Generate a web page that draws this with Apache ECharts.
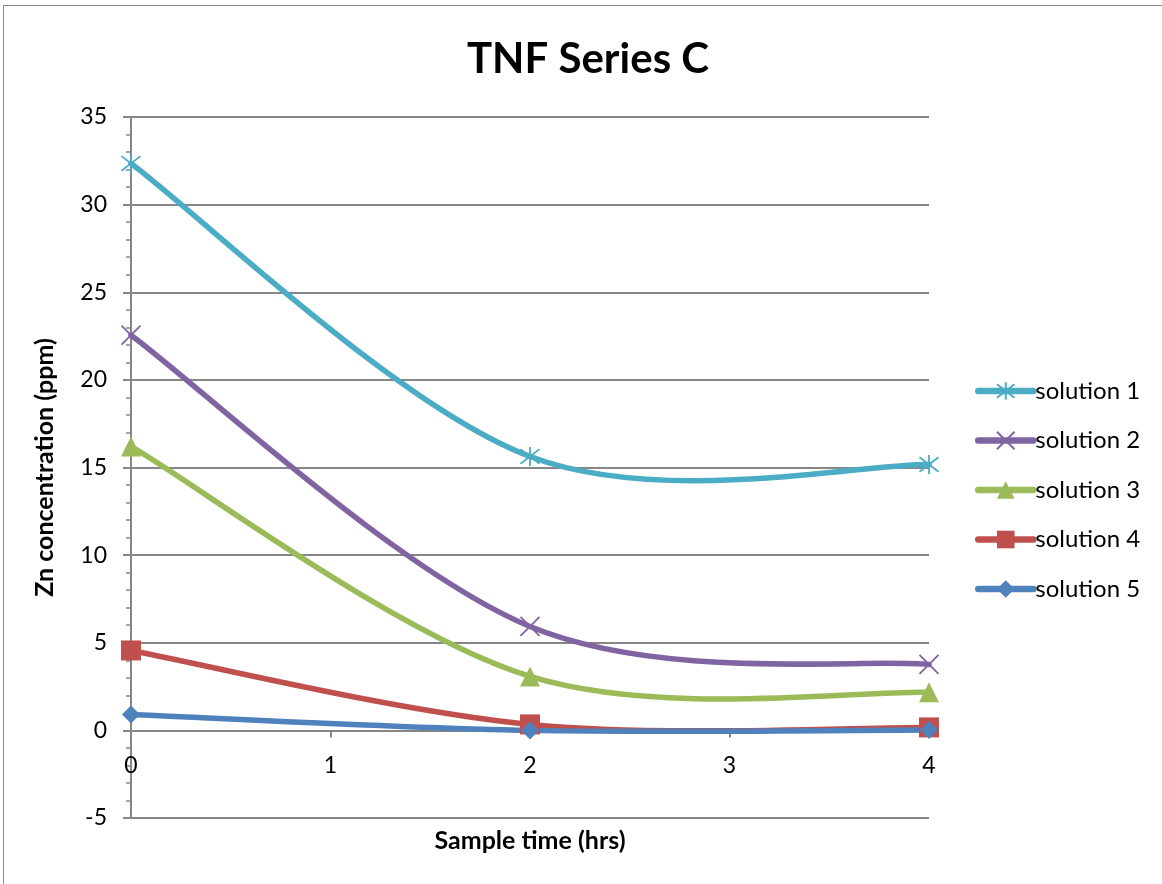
<!DOCTYPE html>
<html>
<head>
<meta charset="utf-8">
<script src="https://cdn.jsdelivr.net/npm/echarts@6/dist/echarts.min.js"></script>
<style>
html,body{margin:0;padding:0;background:#fff;}
#frame{position:absolute;left:3px;top:5px;width:1170px;height:890px;border:1.5px solid #898989;box-sizing:border-box;}
#chart{position:absolute;left:0;top:0;width:1162px;height:884px;}
</style>
</head>
<body>
<div id="frame"></div>
<div id="chart"></div>
<script>
const times = [0, 2, 4];
const seriesNames = ['solution 1', 'solution 2', 'solution 3', 'solution 4', 'solution 5'];
const solution1 = [32.35, 15.63, 15.17];
const solution2 = [22.55, 5.93, 3.76];
const solution3 = [16.2, 3.08, 2.17];
const solution4 = [4.56, 0.34, 0.17];
const solution5 = [0.91, 0.0, 0.02];
const yTicks = [-5, 0, 5, 10, 15, 20, 25, 30, 35];
const xTicks = [0, 1, 2, 3, 4];

const colors = ['#4BACC6', '#8064A2', '#9BBB59', '#C0504D', '#4F81BD'];
const values = [solution1, solution2, solution3, solution4, solution5];
const symbols = [
  'path://M0,0L10,10M10,0L0,10M5,-1.5L5,11.5',
  'path://M0,0L10,10M10,0L0,10',
  'triangle',
  'rect',
  'diamond'
];
const symbolSizes = [19, 19, 20, 20, 18];

// Excel-style smoothed curve (Catmull-Rom Bezier) through the pixel positions given by the axes
function smoothPath(pts) {
  let d = 'M' + pts[0][0] + ',' + pts[0][1];
  for (let k = 0; k < pts.length - 1; k++) {
    const p0 = pts[Math.max(k - 1, 0)], p1 = pts[k], p2 = pts[k + 1], p3 = pts[Math.min(k + 2, pts.length - 1)];
    const c1 = [p1[0] + (p2[0] - p0[0]) / 6, p1[1] + (p2[1] - p0[1]) / 6];
    const c2 = [p2[0] - (p3[0] - p1[0]) / 6, p2[1] - (p3[1] - p1[1]) / 6];
    d += ' C' + c1[0] + ',' + c1[1] + ' ' + c2[0] + ',' + c2[1] + ' ' + p2[0] + ',' + p2[1];
  }
  return d;
}

const chart = echarts.init(document.getElementById('chart'));
const font = 'Lato, "Open Sans", sans-serif';

const curveSeries = seriesNames.map((name, i) => ({
  name: 'curve ' + (i + 1),
  type: 'custom',
  coordinateSystem: 'cartesian2d',
  data: times.map((t, j) => [t, values[i][j]]),
  encode: {x: 0, y: 1},
  z: 2,
  silent: true,
  renderItem: function (params, api) {
    if (params.dataIndex !== 0) return null;
    const pts = times.map((t, j) => api.coord([t, values[i][j]]));
    return {
      type: 'path',
      shape: {pathData: smoothPath(pts)},
      style: {fill: 'none', stroke: colors[i], lineWidth: 5.5, lineCap: 'round', lineJoin: 'round'}
    };
  }
}));

const markerSeries = seriesNames.map((name, i) => ({
  name: name,
  type: 'line',
  data: times.map((t, j) => [t, values[i][j]]),
  symbol: symbols[i],
  symbolSize: symbolSizes[i],
  showAllSymbol: true,
  z: 3,
  lineStyle: {color: colors[i], width: 5, opacity: 0},
  itemStyle: i < 2
    ? {color: colors[i], borderColor: colors[i], borderWidth: 1.8}
    : {color: colors[i], borderWidth: 0},
  emphasis: {disabled: true}
}));

chart.setOption({
  animation: false,
  textStyle: {fontFamily: font},
  title: {
    text: 'TNF Series C',
    left: 583, top: 33, textAlign: 'center',
    textStyle: {fontSize: 42, fontWeight: 'bold', color: '#000', fontFamily: font}
  },
  legend: {
    orient: 'vertical',
    left: 970, top: 374,
    itemWidth: 55, itemHeight: 22, itemGap: 25.5,
    lineStyle: {opacity: 1, width: 6.5, cap: 'round'},
    textStyle: {fontSize: 24, color: '#000', fontFamily: font, padding: [0, 0, 0, -3]},
    data: seriesNames
  },
  grid: {left: 131, top: 117, right: 233, bottom: 66, containLabel: false, outerBoundsMode: 'none'},
  xAxis: {
    type: 'value', min: xTicks[0], max: xTicks[xTicks.length - 1], interval: 1,
    name: 'Sample time (hrs)', nameLocation: 'middle', nameGap: 10,
    nameTextStyle: {fontSize: 25, fontWeight: 'bold', color: '#000', verticalAlign: 'top'},
    axisLine: {show: true, onZero: true, lineStyle: {color: '#868686', width: 2}},
    axisTick: {show: true, length: 7, lineStyle: {color: '#868686', width: 2}},
    axisLabel: {fontSize: 23, color: '#000', margin: -64},
    splitLine: {show: false}
  },
  yAxis: {
    type: 'value', min: yTicks[0], max: yTicks[yTicks.length - 1], interval: 5,
    name: 'Zn concentration (ppm)', nameLocation: 'middle', nameGap: 74,
    nameTextStyle: {fontSize: 25, fontWeight: 'bold', color: '#000'},
    axisLine: {show: true, onZero: false, lineStyle: {color: '#868686', width: 2}},
    axisTick: {show: true, length: 8, lineStyle: {color: '#868686', width: 2}},
    minorTick: {show: true, splitNumber: 5, length: 5, lineStyle: {color: '#868686', width: 1.5}},
    axisLabel: {fontSize: 23, color: '#000', margin: 24},
    splitLine: {show: true, lineStyle: {color: '#868686', width: 2}}
  },
  series: curveSeries.concat(markerSeries)
});
</script>
</body>
</html>
